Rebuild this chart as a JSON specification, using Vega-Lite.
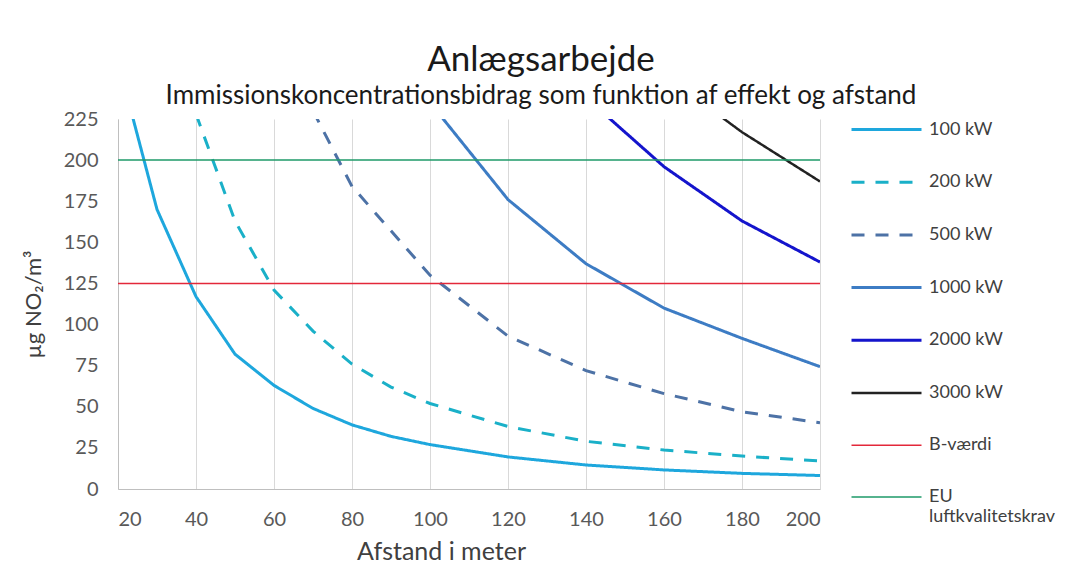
{
  "$schema": "https://vega.github.io/schema/vega-lite/v6.json",
  "autosize": {"type": "none"},
  "padding": {"left": 118, "top": 119, "right": 264, "bottom": 99},
  "width": 702,
  "height": 370,
  "background": "white",
  "config": {
    "view": {"stroke": null},
    "font": "Lato",
    "axis": {"labelFont": "Lato", "titleFont": "Lato", "labelColor": "#595959", "titleColor": "#404040", "labelFontSize": 20, "titleFontSize": 22, "titleFontWeight": "normal", "domainColor": "#bfbfbf", "gridColor": "#d9d9d9"},
    "legend": {"labelFont": "Lato", "labelFontSize": 18, "labelColor": "#404040"}
  },
  "title": {
    "text": "Anlægsarbejde",
    "subtitle": "Immissionskoncentrationsbidrag som funktion af effekt og afstand",
    "anchor": "middle",
    "dx": 72,
    "font": "Lato",
    "fontSize": 35,
    "fontWeight": "normal",
    "color": "#1a1a1a",
    "subtitleFont": "Lato",
    "subtitleFontSize": 26,
    "subtitleColor": "#1a1a1a",
    "subtitlePadding": 5,
    "offset": -16
  },
  "data": {
    "values": [
      {"x": 20, "y": 260, "s": "100 kW"},
      {"x": 30, "y": 170, "s": "100 kW"},
      {"x": 40, "y": 117, "s": "100 kW"},
      {"x": 50, "y": 82, "s": "100 kW"},
      {"x": 60, "y": 63, "s": "100 kW"},
      {"x": 70, "y": 49, "s": "100 kW"},
      {"x": 80, "y": 39, "s": "100 kW"},
      {"x": 90, "y": 32, "s": "100 kW"},
      {"x": 100, "y": 27, "s": "100 kW"},
      {"x": 120, "y": 19.5, "s": "100 kW"},
      {"x": 140, "y": 14.6, "s": "100 kW"},
      {"x": 160, "y": 11.6, "s": "100 kW"},
      {"x": 180, "y": 9.5, "s": "100 kW"},
      {"x": 200, "y": 8.2, "s": "100 kW"},
      {"x": 40, "y": 228, "s": "200 kW"},
      {"x": 50, "y": 163, "s": "200 kW"},
      {"x": 60, "y": 121, "s": "200 kW"},
      {"x": 70, "y": 96, "s": "200 kW"},
      {"x": 80, "y": 76, "s": "200 kW"},
      {"x": 90, "y": 62, "s": "200 kW"},
      {"x": 100, "y": 52, "s": "200 kW"},
      {"x": 120, "y": 38, "s": "200 kW"},
      {"x": 140, "y": 29, "s": "200 kW"},
      {"x": 160, "y": 23.7, "s": "200 kW"},
      {"x": 180, "y": 20, "s": "200 kW"},
      {"x": 200, "y": 17, "s": "200 kW"},
      {"x": 70, "y": 230, "s": "500 kW"},
      {"x": 80, "y": 184, "s": "500 kW"},
      {"x": 90, "y": 157, "s": "500 kW"},
      {"x": 100, "y": 130, "s": "500 kW"},
      {"x": 120, "y": 93, "s": "500 kW"},
      {"x": 140, "y": 72, "s": "500 kW"},
      {"x": 160, "y": 58, "s": "500 kW"},
      {"x": 180, "y": 47, "s": "500 kW"},
      {"x": 200, "y": 40.3, "s": "500 kW"},
      {"x": 100, "y": 235, "s": "1000 kW"},
      {"x": 120, "y": 176, "s": "1000 kW"},
      {"x": 140, "y": 137, "s": "1000 kW"},
      {"x": 160, "y": 110, "s": "1000 kW"},
      {"x": 180, "y": 91.6, "s": "1000 kW"},
      {"x": 200, "y": 74.4, "s": "1000 kW"},
      {"x": 140, "y": 238, "s": "2000 kW"},
      {"x": 160, "y": 196, "s": "2000 kW"},
      {"x": 180, "y": 163, "s": "2000 kW"},
      {"x": 200, "y": 138, "s": "2000 kW"},
      {"x": 160, "y": 252, "s": "3000 kW"},
      {"x": 180, "y": 217, "s": "3000 kW"},
      {"x": 200, "y": 187, "s": "3000 kW"},
      {"x": 20, "y": 125, "s": "B-værdi"},
      {"x": 200, "y": 125, "s": "B-værdi"},
      {"x": 20, "y": 200, "s": "EU luftkvalitetskrav"},
      {"x": 200, "y": 200, "s": "EU luftkvalitetskrav"}
    ]
  },
  "mark": {"type": "line", "clip": true},
  "encoding": {
    "x": {
      "field": "x", "type": "quantitative",
      "scale": {"domain": [20, 200], "nice": false},
      "axis": {"values": [20, 40, 60, 80, 100, 120, 140, 160, 180, 200], "grid": true, "ticks": false, "labelPadding": 20, "title": "Afstand i meter", "titleFontSize": 25, "titlePadding": 10, "titleX": 323}
    },
    "y": {
      "field": "y", "type": "quantitative",
      "scale": {"domain": [0, 225], "nice": false},
      "axis": {"values": [0, 25, 50, 75, 100, 125, 150, 175, 200, 225], "grid": false, "ticks": false, "labelPadding": 20, "title": "µg NO₂/m³", "titlePadding": 18}
    },
    "color": {
      "field": "s", "type": "nominal",
      "scale": {
        "domain": ["100 kW", "200 kW", "500 kW", "1000 kW", "2000 kW", "3000 kW", "B-værdi", "EU luftkvalitetskrav"],
        "range": ["#1ea7dd", "#1ab0c8", "#4d72a6", "#3d7cc4", "#1414cc", "#222222", "#e3283a", "#1f9a6a"]
      },
      "legend": {
        "title": null,
        "orient": "none",
        "legendX": 732,
        "legendY": -26,
        "padding": 0,
        "symbolType": "stroke",
        "symbolSize": 4900,
        "rowPadding": 6.7,
        "labelOffset": 6,
        "labelExpr": "datum.label == 'EU luftkvalitetskrav' ? ['EU', 'luftkvalitetskrav'] : datum.label"
      }
    },
    "strokeDash": {
      "field": "s", "type": "nominal",
      "scale": {
        "domain": ["100 kW", "200 kW", "500 kW", "1000 kW", "2000 kW", "3000 kW", "B-værdi", "EU luftkvalitetskrav"],
        "range": [[1, 0], [13, 11], [13, 11], [1, 0], [1, 0], [1, 0], [1, 0], [1, 0]]
      },
      "legend": {"title": null}
    },
    "strokeWidth": {
      "field": "s", "type": "nominal",
      "scale": {
        "type": "ordinal",
        "domain": ["100 kW", "200 kW", "500 kW", "1000 kW", "2000 kW", "3000 kW", "B-værdi", "EU luftkvalitetskrav"],
        "range": [3, 3, 3, 3, 3, 2.5, 1.5, 1.5]
      },
      "legend": {"title": null}
    }
  }
}
